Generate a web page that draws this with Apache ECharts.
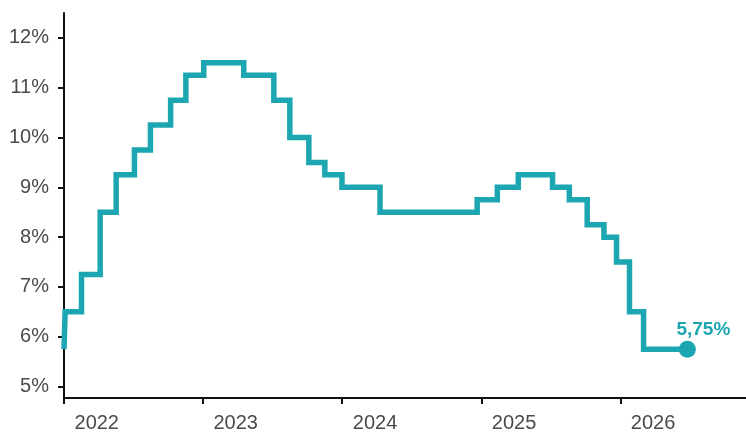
<!DOCTYPE html>
<html>
<head>
<meta charset="utf-8">
<script src="https://cdn.jsdelivr.net/npm/echarts@6/dist/echarts.min.js"></script>
<style>
    html, body { margin: 0; padding: 0; background: #fff; }
    #chart { width: 746px; height: 437px; }
    #err { position: absolute; left: 10px; top: 10px; color: red; font: 12px sans-serif; }
</style>
</head>
<body>
<div id="chart"></div>
<div id="err"></div>
<script>
// dates where the rate changes (step) and the new level
const rateDates = [
    "2022-01-01", "2022-01-04", "2022-02-16", "2022-04-06", "2022-05-18",
    "2022-07-05", "2022-08-16", "2022-10-08", "2022-11-17", "2023-01-03",
    "2023-04-18", "2023-07-06", "2023-08-17", "2023-10-06", "2023-11-17",
    "2024-01-01", "2024-04-10", "2024-12-21", "2025-02-12", "2025-04-08",
    "2025-07-07", "2025-08-20", "2025-10-06", "2025-11-19", "2025-12-22",
    "2026-01-25", "2026-03-03", "2026-06-26"
];
const rateValues = [
    5.75, 6.5, 7.25, 8.5, 9.25,
    9.75, 10.25, 10.75, 11.25, 11.5,
    11.25, 10.75, 10.0, 9.5, 9.25,
    9.0, 8.5, 8.75, 9.0, 9.25,
    9.0, 8.75, 8.25, 8.0, 7.5,
    6.5, 5.75, 5.75
];
const yearTicks = [2022, 2023, 2024, 2025, 2026];
const yTicks = [5, 6, 7, 8, 9, 10, 11, 12];

const teal = "#1ba6b1";
const textGrey = "#4a4a4a";
const font = "Liberation Sans, Arial, sans-serif";

function toTime(s) {
    const p = s.split("-");
    return Date.UTC(+p[0], +p[1] - 1, +p[2]);
}

const seriesData = rateDates.map((d, i) => [toTime(d), rateValues[i]]);
const last = seriesData[seriesData.length - 1];

// year labels sit a little after the year start
const tickTimes = yearTicks.map(y => Date.UTC(y, 0, 1));
const labelTimes = yearTicks.map(y => Date.UTC(y, 2, 28));

try {
    const chartInstance = echarts.init(document.getElementById("chart"));

    const options = {
        animation: false,
        backgroundColor: "#fff",
        grid: { left: 64, right: 0, top: 13, bottom: 39, containLabel: false },
        xAxis: {
            type: "value",
            min: Date.UTC(2022, 0, 1),
            max: Date.UTC(2026, 10, 27),
            splitLine: { show: false },
            axisLine: { show: true, lineStyle: { color: "#111", width: 2 } },
            axisTick: {
                show: true,
                length: 6,
                lineStyle: { color: "#111", width: 2 },
                customValues: tickTimes
            },
            axisLabel: {
                customValues: labelTimes,
                margin: 15,
                color: textGrey,
                fontSize: 20,
                fontFamily: font,
                formatter: function (v) { return String(new Date(v).getUTCFullYear()); }
            }
        },
        yAxis: {
            type: "value",
            min: 4.77,
            max: 12.5,
            splitLine: { show: false },
            axisLine: { show: true, lineStyle: { color: "#111", width: 2 } },
            axisTick: {
                show: true,
                length: 6,
                lineStyle: { color: "#111", width: 2 },
                customValues: yTicks
            },
            axisLabel: {
                customValues: yTicks,
                margin: 15,
                color: textGrey,
                fontSize: 20,
                fontFamily: font,
                formatter: function (v) { return v + "%"; }
            }
        },
        series: [
            {
                type: "line",
                step: "end",
                data: seriesData,
                showSymbol: false,
                lineStyle: { color: teal, width: 5.5, join: "miter", cap: "butt" },
                silent: true
            },
            {
                type: "scatter",
                data: [last],
                symbolSize: 17,
                itemStyle: { color: teal, opacity: 1 },
                label: {
                    show: true,
                    position: "top",
                    distance: 1,
                    offset: [16, 0],
                    color: teal,
                    fontSize: 19,
                    fontWeight: "bold",
                    fontFamily: font,
                    formatter: function (p) { return p.value[1].toFixed(2).replace(".", ",") + "%"; }
                },
                silent: true
            }
        ]
    };

    chartInstance.setOption(options);
} catch (error) {
    document.getElementById("err").textContent = "error: " + error.message;
}
</script>
</body>
</html>
